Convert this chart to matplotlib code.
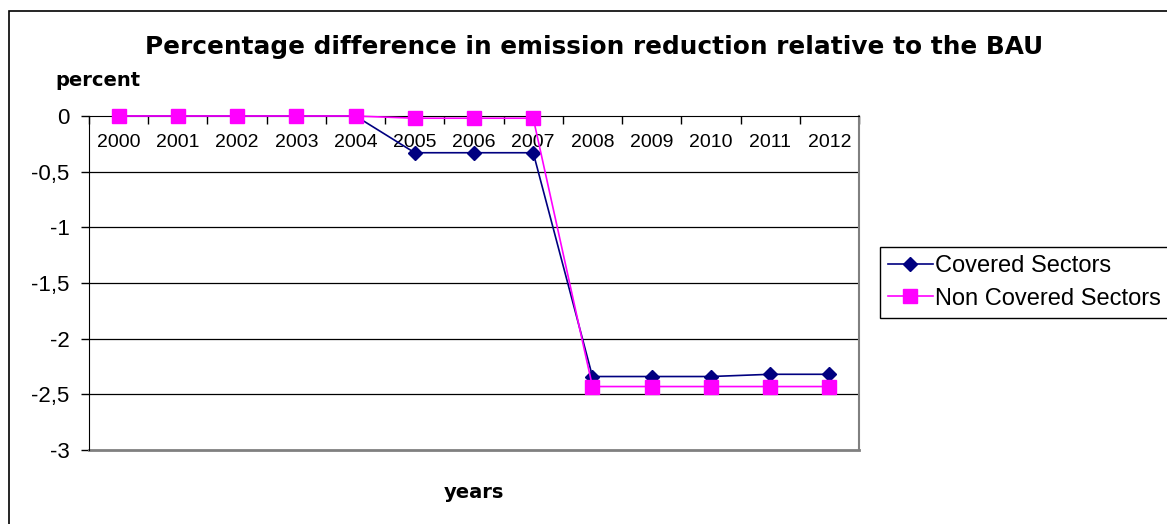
import matplotlib.pyplot as plt
from matplotlib.patches import Rectangle
from matplotlib.ticker import FuncFormatter

plt.rcParams['font.family'] = ['Liberation Sans', 'DejaVu Sans']

years = ['2000', '2001', '2002', '2003', '2004', '2005', '2006',
         '2007', '2008', '2009', '2010', '2011', '2012']
covered = [0, 0, 0, 0, 0, -0.33, -0.33, -0.33, -2.34, -2.34, -2.34, -2.32, -2.32]
non_covered = [0, 0, 0, 0, 0, -0.02, -0.02, -0.02, -2.43, -2.43, -2.43, -2.43, -2.43]
y_ticks = [0, -0.5, -1, -1.5, -2, -2.5, -3]

fig = plt.figure(figsize=(11.67, 5.24), dpi=100)
ax = fig.add_axes([89 / 1167, 1 - 450 / 524, (859 - 89) / 1167, (450 - 116) / 524])

# outer chart frame (runs off the right/bottom edge)
fig.patches.append(Rectangle((9 / 1167, -0.2), 1.2, 1 - 11 / 524 + 0.2,
                             transform=fig.transFigure, fill=False,
                             edgecolor='black', linewidth=1.2))

x = list(range(len(years)))
ax.plot(x, covered, color='#000080', marker='D', markersize=7, linewidth=1.2,
        label='Covered Sectors', zorder=3, clip_on=False)
ax.plot(x, non_covered, color='#FF00FF', marker='s', markersize=9.5, linewidth=1.2,
        label='Non Covered Sectors', zorder=4, clip_on=False)

ax.set_xlim(-0.5, len(years) - 0.5)
ax.set_ylim(-3, 0)
ax.set_yticks(y_ticks)
ax.yaxis.set_major_formatter(FuncFormatter(lambda v, p: f'{v:g}'.replace('.', ',')))
ax.tick_params(axis='y', labelsize=16, length=6, width=1, color='black', pad=8)

ax.set_xticks(x)
ax.set_xticklabels(years)
ax.set_xticks([i - 0.5 for i in range(len(years) + 1)], minor=True)
ax.tick_params(axis='x', which='major', length=0, labelsize=14, pad=13)
ax.tick_params(axis='x', which='minor', length=6, width=1, direction='out', color='black')

ax.spines['bottom'].set_position(('data', 0))
ax.spines['bottom'].set_color('black')
ax.spines['left'].set_color('black')
ax.spines['top'].set_visible(False)
ax.spines['right'].set_color('#808080')
ax.spines['right'].set_linewidth(1.5)
ax.axhline(-3, color='#808080', linewidth=2, clip_on=False, zorder=2)

for v in y_ticks[1:-1]:
    ax.axhline(v, color='black', linewidth=0.9, zorder=1)

fig.text(594 / 1167, 1 - 47 / 524, 'Percentage difference in emission reduction relative to the BAU',
         ha='center', va='center', fontsize=17.8, fontweight='bold', family='DejaVu Sans')
fig.text(55 / 1167, 1 - 81 / 524, 'percent', ha='left', va='center',
         fontsize=14, fontweight='bold', family='DejaVu Sans')
fig.text(474 / 1167, 1 - 492 / 524, 'years', ha='center', va='center',
         fontsize=14, fontweight='bold', family='DejaVu Sans')

leg = ax.legend(loc='upper left', bbox_to_anchor=(880 / 1167, 1 - 247 / 524),
                bbox_transform=fig.transFigure, borderaxespad=0, fancybox=False,
                edgecolor='black', framealpha=1, fontsize=17, handlelength=1.9,
                borderpad=0.34, labelspacing=0.45, handletextpad=0.1)
leg.get_frame().set_linewidth(1)

fig.savefig('out.png', dpi=100)
